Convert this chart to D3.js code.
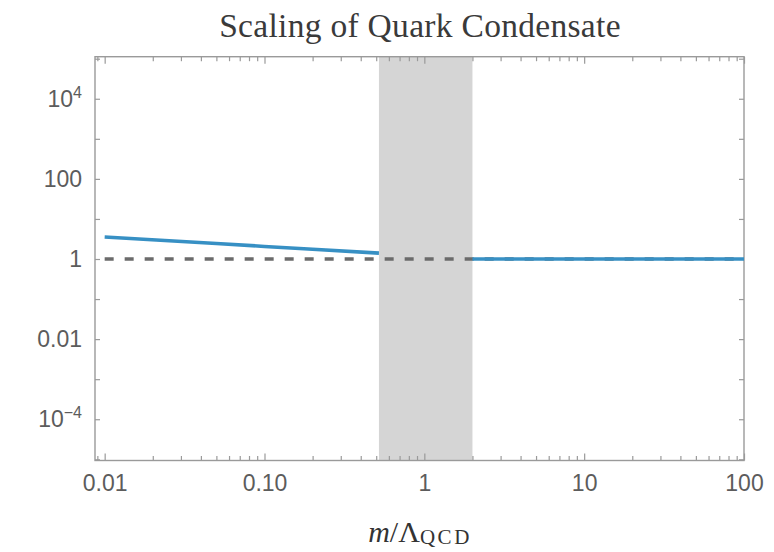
<!DOCTYPE html>
<html>
<head>
<meta charset="utf-8">
<script src="https://cdn.jsdelivr.net/npm/d3@7"></script>
<style>
  body { margin: 0; background: #fff; }
  svg { display: block; }
</style>
</head>
<body>
<svg id="chart" width="774" height="552"></svg>
<script>
// Axis ranges (log-log)
const xDomain = [0.0087, 100];
const yDomain = [Math.pow(10, -5.03), Math.pow(10, 5.05)];

// Tick labels
const xTickValues = [0.01, 0.1, 1, 10, 100];
const xTickLabels = ["0.01", "0.10", "1", "10", "100"];
const yTickValues = [1e4, 1e2, 1, 1e-2, 1e-4];
const yTickBase = ["10", "100", "1", "0.01", "10"];
const yTickExp = ["4", "", "", "", "\u22124"];

// Condensate below the crossover region
const lowMass = [0.01, 0.05, 0.1, 0.2, 0.52];
const lowCondensate = [3.54, 2.43, 2.06, 1.75, 1.4];
// Condensate above the crossover region
const highMass = [2, 100];
const highCondensate = [1, 1];
// Reference level
const refMass = [0.01, 100];
const refValue = [1, 1];
// Crossover band
const bandRange = [0.52, 2];

const margin = { left: 95, right: 744, top: 56.7, bottom: 460.5 };

const svg = d3.select("#chart");
const x = d3.scaleLog().domain(xDomain).range([margin.left, margin.right]);
const y = d3.scaleLog().domain(yDomain).range([margin.bottom, margin.top]);

const frameColor = "#9a9a9a";
const labelColor = "#5c5c5c";

// Crossover band
svg.append("rect")
  .attr("x", x(bandRange[0]))
  .attr("y", margin.top)
  .attr("width", x(bandRange[1]) - x(bandRange[0]))
  .attr("height", margin.bottom - margin.top)
  .attr("fill", "#d5d5d5");

// Tick sets
const xAll = x.ticks();
const isDecade = v => Math.abs(Math.log10(v) - Math.round(Math.log10(v))) < 1e-9;
const xMinor = xAll.filter(v => !isDecade(v));
const yDecades = d3.range(-5, 6).map(e => Math.pow(10, e))
  .filter(v => v >= yDomain[0] && v <= yDomain[1]);

function styleAxis(g) {
  g.select(".domain").remove();
  g.selectAll(".tick line").attr("stroke", frameColor).attr("stroke-width", 1.2);
  g.selectAll(".tick text")
    .attr("fill", labelColor)
    .style("font-family", "'Liberation Sans', Arial, sans-serif")
    .style("font-size", "23px");
}

// Bottom axis: minor + labelled decades
svg.append("g").attr("transform", `translate(0,${margin.bottom})`)
  .call(d3.axisBottom(x).tickValues(xMinor).tickSize(-4.5).tickFormat(""))
  .call(styleAxis);
svg.append("g").attr("transform", `translate(0,${margin.bottom})`)
  .call(d3.axisBottom(x).tickValues(xTickValues).tickSize(-7).tickPadding(14)
    .tickFormat((d, i) => xTickLabels[i]))
  .call(styleAxis);

// Top axis: mirrored ticks
svg.append("g").attr("transform", `translate(0,${margin.top})`)
  .call(d3.axisTop(x).tickValues(xMinor).tickSize(-4.5).tickFormat(""))
  .call(styleAxis);
svg.append("g").attr("transform", `translate(0,${margin.top})`)
  .call(d3.axisTop(x).tickValues(xTickValues).tickSize(-7).tickFormat(""))
  .call(styleAxis);

// Left axis
svg.append("g").attr("transform", `translate(${margin.left},0)`)
  .call(d3.axisLeft(y).tickValues(yDecades).tickSize(-5).tickFormat(""))
  .call(styleAxis);
const yLab = svg.append("g").attr("transform", `translate(${margin.left},0)`)
  .call(d3.axisLeft(y).tickValues(yTickValues).tickSize(0).tickPadding(13)
    .tickFormat(""))
  .call(styleAxis);
yLab.selectAll(".tick text").each(function (d, i) {
  const t = d3.select(this);
  t.append("tspan").text(yTickBase[i]);
  if (yTickExp[i]) {
    t.append("tspan").text(yTickExp[i])
      .attr("dy", "-0.55em").style("font-size", "16px");
  }
});

// Right axis
svg.append("g").attr("transform", `translate(${margin.right},0)`)
  .call(d3.axisRight(y).tickValues(yDecades).tickSize(-5).tickFormat(""))
  .call(styleAxis);

// Frame
svg.append("rect")
  .attr("x", margin.left).attr("y", margin.top)
  .attr("width", margin.right - margin.left)
  .attr("height", margin.bottom - margin.top)
  .attr("fill", "none").attr("stroke", frameColor).attr("stroke-width", 1.4);

const line = d3.line().x(d => x(d[0])).y(d => y(d[1]));

// Reference level (dashed)
svg.append("path")
  .datum(d3.zip(refMass, refValue))
  .attr("d", line)
  .attr("fill", "none")
  .attr("stroke", "#6b6b6b")
  .attr("stroke-width", 3.4)
  .attr("stroke-dasharray", "9,11");

// Condensate curves
[[lowMass, lowCondensate], [highMass, highCondensate]].forEach(([ms, vs]) => {
  svg.append("path")
    .datum(d3.zip(ms, vs))
    .attr("d", line)
    .attr("fill", "none")
    .attr("stroke", "#3790c4")
    .attr("stroke-width", 3.6);
});

// Title
svg.append("text")
  .attr("x", 420).attr("y", 37)
  .attr("text-anchor", "middle")
  .attr("fill", "#3a3a3a")
  .style("font-family", "'Liberation Serif', 'Times New Roman', serif")
  .style("font-size", "33.5px")
  .style("letter-spacing", "0.3px")
  .text("Scaling of Quark Condensate");

// Axis label m/Λ_QCD
const xl = svg.append("text")
  .attr("x", 420).attr("y", 542)
  .attr("text-anchor", "middle")
  .attr("fill", "#333")
  .style("font-family", "'Liberation Serif', 'Times New Roman', serif")
  .style("font-size", "30px");
xl.append("tspan").style("font-style", "italic").text("m");
xl.append("tspan").text("/\u039B");
xl.append("tspan").attr("dy", "2").style("font-size", "21px")
  .style("letter-spacing", "2.5px").text("QCD");
</script>
</body>
</html>
